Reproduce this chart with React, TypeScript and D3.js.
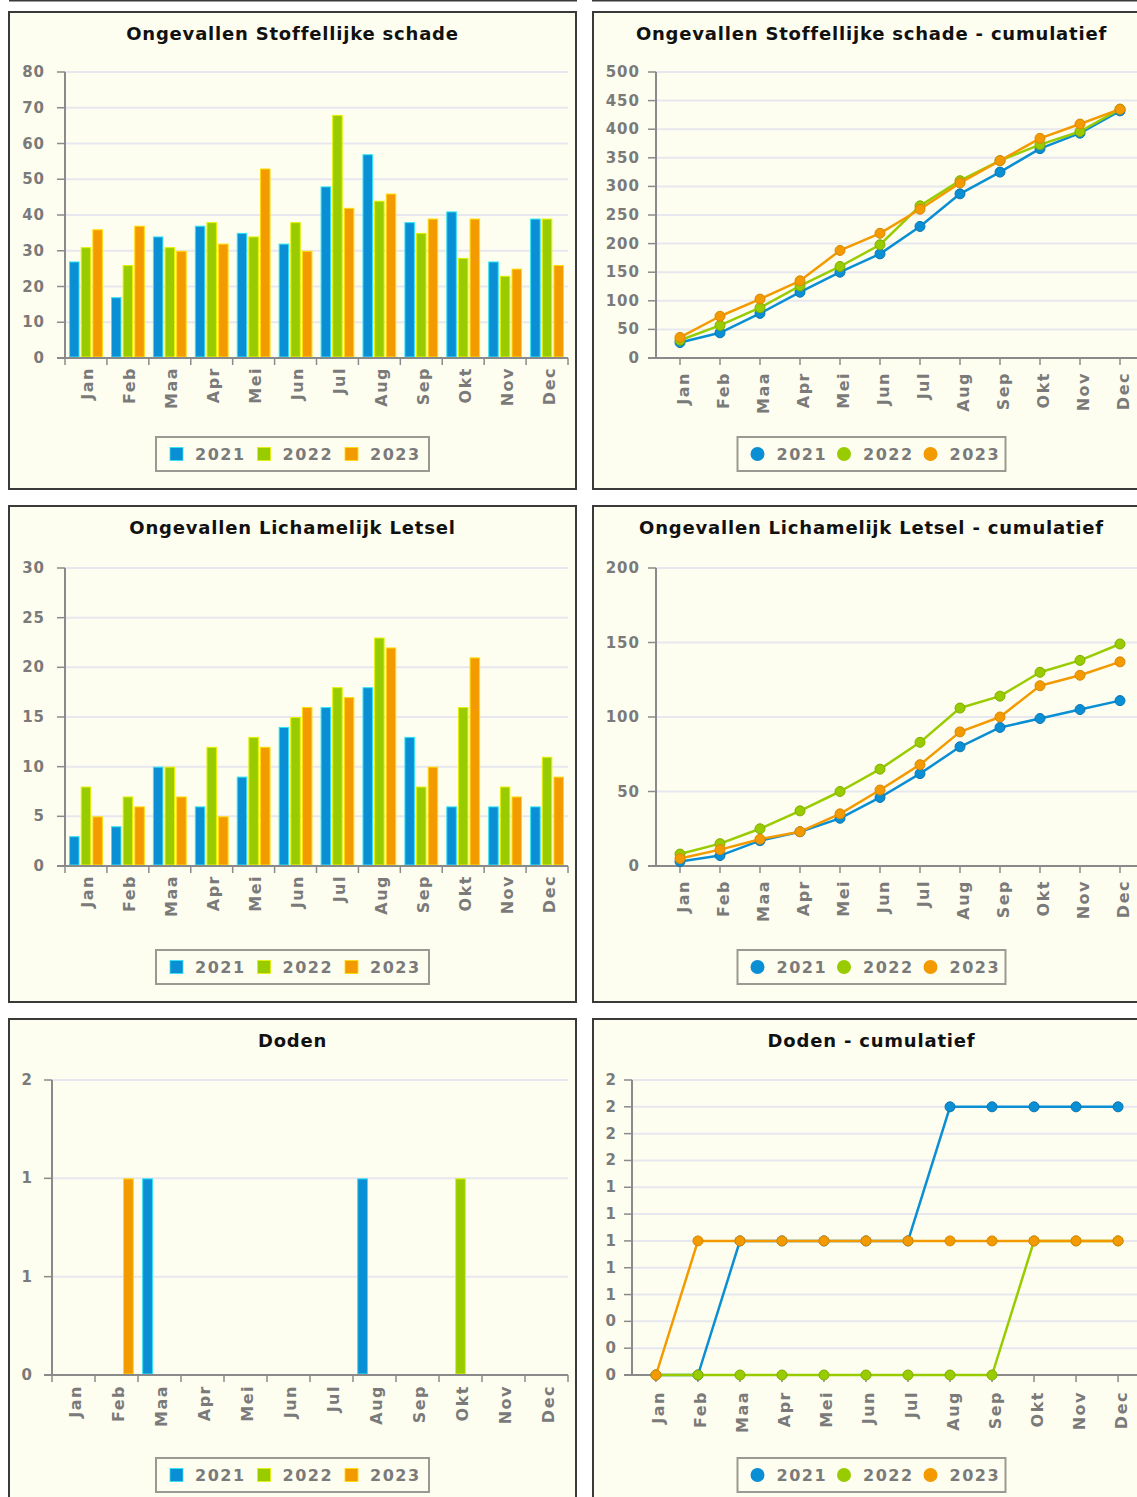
import React from 'react';
import * as d3 from 'd3';

const months = ['Jan', 'Feb', 'Maa', 'Apr', 'Mei', 'Jun', 'Jul', 'Aug', 'Sep', 'Okt', 'Nov', 'Dec'];
const years = ['2021', '2022', '2023'];

// Ongevallen Stoffellijke schade (monthly)
const schade2021 = [27, 17, 34, 37, 35, 32, 48, 57, 38, 41, 27, 39];
const schade2022 = [31, 26, 31, 38, 34, 38, 68, 44, 35, 28, 23, 39];
const schade2023 = [36, 37, 30, 32, 53, 30, 42, 46, 39, 39, 25, 26];
// cumulatief
const schadeCum2021 = [27, 44, 78, 115, 150, 182, 230, 287, 325, 366, 393, 432];
const schadeCum2022 = [31, 57, 88, 126, 160, 198, 266, 310, 345, 373, 396, 435];
const schadeCum2023 = [36, 73, 103, 135, 188, 218, 260, 306, 345, 384, 409, 435];

// Ongevallen Lichamelijk Letsel
const letsel2021 = [3, 4, 10, 6, 9, 14, 16, 18, 13, 6, 6, 6];
const letsel2022 = [8, 7, 10, 12, 13, 15, 18, 23, 8, 16, 8, 11];
const letsel2023 = [5, 6, 7, 5, 12, 16, 17, 22, 10, 21, 7, 9];
const letselCum2021 = [3, 7, 17, 23, 32, 46, 62, 80, 93, 99, 105, 111];
const letselCum2022 = [8, 15, 25, 37, 50, 65, 83, 106, 114, 130, 138, 149];
const letselCum2023 = [5, 11, 18, 23, 35, 51, 68, 90, 100, 121, 128, 137];

// Doden
const doden2021 = [0, 0, 1, 0, 0, 0, 0, 1, 0, 0, 0, 0];
const doden2022 = [0, 0, 0, 0, 0, 0, 0, 0, 0, 1, 0, 0];
const doden2023 = [0, 1, 0, 0, 0, 0, 0, 0, 0, 0, 0, 0];
const dodenCum2021 = [0, 0, 1, 1, 1, 1, 1, 2, 2, 2, 2, 2];
const dodenCum2022 = [0, 0, 0, 0, 0, 0, 0, 0, 0, 1, 1, 1];
const dodenCum2023 = [0, 1, 1, 1, 1, 1, 1, 1, 1, 1, 1, 1];

// axis ticks
const ticksSchade = [0, 10, 20, 30, 40, 50, 60, 70, 80];
const ticksSchadeCum = [0, 50, 100, 150, 200, 250, 300, 350, 400, 450, 500];
const ticksLetsel = [0, 5, 10, 15, 20, 25, 30];
const ticksLetselCum = [0, 50, 100, 150, 200];
const ticksDoden = [0, 0.5, 1, 1.5];
const ticksDodenCum = [0, 0.2, 0.4, 0.6, 0.8, 1, 1.2, 1.4, 1.6, 1.8, 2, 2.2];

const colors = ['#0a8ed4', '#99cc00', '#f39a00'];
const barEdge = ['#30e4f4', '#e6f000', '#ffdc00'];
const markerEdge = ['#0b77b3', '#80ad00', '#d88709'];

const FONT = '"DejaVu Sans", Verdana, sans-serif';
const BG = '#fefef0';
const GRID = '#e7e7ef';
const AXIS = '#8a8a8a';
const TXT = '#7a7a7a';

type Box = { x: number; y: number; w: number; h: number };
type Plot = { left: number; right: number; top: number; bottom: number };

function Frame({ panel, title, titleY }: { panel: Box; title: string; titleY: number }) {
  return (
    <g>
      <rect x={panel.x} y={panel.y} width={panel.w} height={panel.h} fill={BG} stroke="#3a3a3a" strokeWidth={2} />
      <text x={panel.x + panel.w / 2} y={titleY} textAnchor="middle" dominantBaseline="central"
        fontFamily={FONT} fontWeight="bold" fontSize={18} letterSpacing={0.8} fill="#111">{title}</text>
    </g>
  );
}

function YAxis({ plot, y, ticks, fmt, gap }: { plot: Plot; y: d3.ScaleLinear<number, number>; ticks: number[]; fmt: (v: number) => string; gap: number }) {
  return (
    <g>
      {ticks.map((t, i) => (
        <g key={i}>
          {t !== 0 && <line x1={plot.left} x2={plot.right} y1={y(t)} y2={y(t)} stroke={GRID} strokeWidth={2} />}
          <line x1={plot.left - 8} x2={plot.left} y1={y(t)} y2={y(t)} stroke={AXIS} strokeWidth={1.5} />
          <text x={plot.left - gap} y={y(t)} textAnchor="end" dominantBaseline="central" fontFamily={FONT}
            fontWeight="bold" fontSize={15} letterSpacing={1} fill={TXT}>{fmt(t)}</text>
        </g>
      ))}
      <line x1={plot.left} x2={plot.left} y1={y(ticks[ticks.length - 1])} y2={plot.bottom} stroke={AXIS} strokeWidth={2} />
      <line x1={plot.left - 8} x2={plot.right} y1={plot.bottom} y2={plot.bottom} stroke={AXIS} strokeWidth={2} />
    </g>
  );
}

function XLabels({ xs, top }: { xs: number[]; top: number }) {
  return (
    <g>
      {months.map((m, i) => (
        <text key={m} transform={`translate(${xs[i]},${top}) rotate(-90)`} textAnchor="end" dominantBaseline="central"
          fontFamily={FONT} fontWeight="bold" fontSize={16} letterSpacing={1.5} fill={TXT}>{m}</text>
      ))}
    </g>
  );
}

function Legend({ cx, cy, w, round }: { cx: number; cy: number; w: number; round: boolean }) {
  const x0 = cx - w / 2;
  const step = round ? 86.5 : 87.5;
  return (
    <g>
      <rect x={x0} y={cy - 17} width={w} height={34} fill={BG} stroke="#9a9a92" strokeWidth={2} />
      {years.map((yr, i) => (
        <g key={yr}>
          {round ? (
            <circle cx={x0 + 20 + i * step} cy={cy} r={7} fill={colors[i]} />
          ) : (
            <rect x={x0 + 14 + i * step} y={cy - 6.5} width={13} height={13} fill={colors[i]} stroke={barEdge[i]} strokeWidth={0.8} />
          )}
          <text x={x0 + 39 + i * step} y={cy} dominantBaseline="central" fontFamily={FONT} fontWeight="bold"
            fontSize={16} letterSpacing={1.5} fill={TXT}>{yr}</text>
        </g>
      ))}
    </g>
  );
}

type BarProps = {
  panel: Box; plot: Plot; title: string; titleY: number; data: number[][]; yMax: number; ticks: number[];
  fmt: (v: number) => string; gap: number; labelTop: number; legendY: number;
};

function BarChart(p: BarProps) {
  const { panel, plot } = p;
  const x0 = d3.scaleBand<string>().domain(months).range([plot.left, plot.right]);
  const x1 = d3.scaleBand<string>().domain(years).range([0, x0.bandwidth()]).paddingInner(0.1).paddingOuter(0.35);
  const y = d3.scaleLinear().domain([0, p.yMax]).range([plot.bottom, plot.top]);
  const bounds = months.map((m) => x0(m) as number).concat([plot.right]);
  return (
    <g>
      <Frame panel={panel} title={p.title} titleY={p.titleY} />
      <YAxis plot={plot} y={y} ticks={p.ticks} fmt={p.fmt} gap={p.gap} />
      {p.data.map((series, si) =>
        series.map((v, mi) => {
          if (v <= 0) return null;
          const bx = (x0(months[mi]) as number) + (x1(years[si]) as number);
          return (
            <rect key={`${si}-${mi}`} x={bx + 0.5} y={y(v) + 0.5} width={x1.bandwidth() - 1} height={plot.bottom - y(v) - 1.5}
              fill={colors[si]} stroke={barEdge[si]} strokeWidth={1} />
          );
        })
      )}
      <line x1={plot.left - 8} x2={plot.right} y1={plot.bottom} y2={plot.bottom} stroke={AXIS} strokeWidth={2} />
      {bounds.map((b, i) => (
        <line key={i} x1={b} x2={b} y1={plot.bottom} y2={plot.bottom + 7} stroke={AXIS} strokeWidth={1.5} />
      ))}
      <XLabels xs={months.map((m) => (x0(m) as number) + x0.bandwidth() / 2 + 2)} top={p.labelTop} />
      <Legend cx={panel.x + panel.w / 2} cy={p.legendY} w={273} round={false} />
    </g>
  );
}

type LineProps = BarProps & { pad: number };

function LineChart(p: LineProps) {
  const { panel, plot } = p;
  const x = d3.scalePoint<string>().domain(months).range([plot.left, plot.right]).padding(p.pad);
  const y = d3.scaleLinear().domain([0, p.yMax]).range([plot.bottom, plot.top]);
  const line = d3.line<number>().x((_, i) => x(months[i]) as number).y((d) => y(d));
  return (
    <g>
      <Frame panel={panel} title={p.title} titleY={p.titleY} />
      <YAxis plot={plot} y={y} ticks={p.ticks} fmt={p.fmt} gap={p.gap} />
      {months.map((m) => (
        <line key={m} x1={x(m)} x2={x(m)} y1={plot.bottom} y2={plot.bottom + 7} stroke={AXIS} strokeWidth={1.5} />
      ))}
      {p.data.map((series, si) => (
        <g key={si}>
          <path d={line(series) || ''} fill="none" stroke={colors[si]} strokeWidth={2.5} strokeLinejoin="round" />
          {series.map((v, mi) => (
            <circle key={mi} cx={x(months[mi])} cy={y(v)} r={5} fill={colors[si]} stroke={markerEdge[si]} strokeWidth={1} />
          ))}
        </g>
      ))}
      <XLabels xs={months.map((m) => (x(m) as number) + 3)} top={p.labelTop} />
      <Legend cx={panel.x + panel.w / 2} cy={p.legendY} w={268} round={true} />
    </g>
  );
}

const intFmt = d3.format('d');
const roundFmt = d3.format('.0f');

export default function App() {
  return (
    <div style={{ position: 'absolute', left: 0, top: 0 }}>
      <svg width={1137} height={1497} style={{ display: 'block', background: '#ffffff' }}>
        <line x1={9} x2={577} y1={0.5} y2={0.5} stroke="#3a3a3a" strokeWidth={2} />
        <line x1={592} x2={1137} y1={0.5} y2={0.5} stroke="#3a3a3a" strokeWidth={2} />

        <BarChart panel={{ x: 9, y: 12, w: 567, h: 477 }} plot={{ left: 65, right: 568, top: 72, bottom: 358 }}
          title="Ongevallen Stoffellijke schade" titleY={33} data={[schade2021, schade2022, schade2023]}
          yMax={80} ticks={ticksSchade} fmt={intFmt} gap={20} labelTop={367} legendY={454} />
        <LineChart panel={{ x: 593, y: 12, w: 557, h: 477 }} plot={{ left: 656, right: 1144, top: 72, bottom: 358 }}
          title="Ongevallen Stoffellijke schade - cumulatief" titleY={33}
          data={[schadeCum2021, schadeCum2022, schadeCum2023]} yMax={500} ticks={ticksSchadeCum} fmt={intFmt}
          gap={16} labelTop={372} legendY={454} pad={0.6} />

        <BarChart panel={{ x: 9, y: 506, w: 567, h: 496 }} plot={{ left: 65, right: 568, top: 568, bottom: 866 }}
          title="Ongevallen Lichamelijk Letsel" titleY={527} data={[letsel2021, letsel2022, letsel2023]}
          yMax={30} ticks={ticksLetsel} fmt={intFmt} gap={20} labelTop={875} legendY={967} />
        <LineChart panel={{ x: 593, y: 506, w: 557, h: 496 }} plot={{ left: 656, right: 1144, top: 568, bottom: 866 }}
          title="Ongevallen Lichamelijk Letsel - cumulatief" titleY={527}
          data={[letselCum2021, letselCum2022, letselCum2023]} yMax={200} ticks={ticksLetselCum} fmt={intFmt}
          gap={16} labelTop={880} legendY={967} pad={0.6} />

        <BarChart panel={{ x: 9, y: 1019, w: 567, h: 500 }} plot={{ left: 52, right: 568, top: 1080, bottom: 1375 }}
          title="Doden" titleY={1040} data={[doden2021, doden2022, doden2023]}
          yMax={1.5} ticks={ticksDoden} fmt={roundFmt} gap={19} labelTop={1385} legendY={1475} />
        <LineChart panel={{ x: 593, y: 1019, w: 557, h: 500 }} plot={{ left: 632, right: 1142, top: 1080, bottom: 1375 }}
          title="Doden - cumulatief" titleY={1040}
          data={[dodenCum2021, dodenCum2022, dodenCum2023]} yMax={2.2} ticks={ticksDodenCum} fmt={roundFmt}
          gap={15} labelTop={1391} legendY={1475} pad={0.57} />
      </svg>
    </div>
  );
}
